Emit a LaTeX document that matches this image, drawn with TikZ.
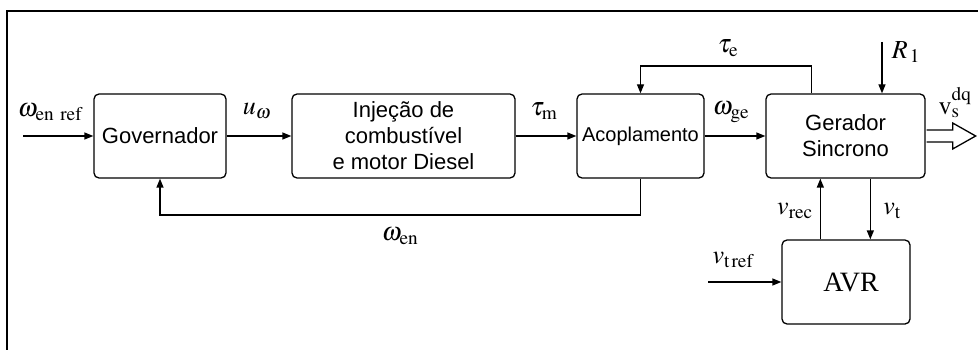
\documentclass[tikz,border=0pt]{standalone}
\usepackage{mathptmx}
\usepackage[no-math]{fontspec}
\setmainfont{Liberation Serif}
\setsansfont{Liberation Sans}
\usetikzlibrary{arrows.meta,calc}
\begin{document}
\begin{tikzpicture}[x=1pt,y=-1pt,
  blk/.style={draw,line width=1.3pt,rounded corners=5pt,minimum height=84pt,inner sep=0pt,
    font=\sffamily\fontsize{22}{26}\selectfont,align=center},
  arr/.style={line width=1.3pt,-{Triangle[length=9pt,width=7pt]}},
  lbl/.style={font=\fontsize{26}{30}\selectfont,inner sep=0pt}]
\useasboundingbox (0,0) rectangle (978,350);
% frame
\draw[line width=1.6pt] (7,350) -- (7,11) -- (978,11);
% blocks
\node[blk,minimum width=132pt] (gov) at (160,136) {Governador};
\node[blk,minimum width=223pt] (inj) at (403.5,136) {Injeção de\\combustível\\e motor Diesel};
\node[blk,minimum width=127pt,font=\sffamily\fontsize{20}{24}\selectfont] (aco) at (640.5,136) {Acoplamento};
\node[blk,minimum width=159pt] (ger) at (845.5,136) {Gerador\\Sincrono};
\node[blk,minimum width=128pt,font=\rmfamily\fontsize{28}{32}\selectfont] (avr) at (846,282) {\hspace*{10pt}AVR};
% coordinates
\coordinate (win) at (23,136);
\coordinate (fby) at (0,215);
\coordinate (tey) at (0,66);
\coordinate (r1) at (882,42);
\coordinate (vref) at (708,282);
% connectors
\draw[arr] (win) -- (gov.west);
\draw[arr] (gov) -- (inj);
\draw[arr] (inj) -- (aco);
\draw[arr] (aco) -- (ger);
\draw[arr] (aco.south) -- (aco.south |- fby) -| (gov.south);
\coordinate (tes) at ($(ger.north west)+(46,0)$);
\draw[arr] (tes) -- (tes |- tey) -| (aco.north);
\draw[arr] (r1) -- (r1 |- ger.north);
\coordinate (vrs) at ($(avr.north west)+(39,0)$);
\draw[arr] (vrs) -- (vrs |- ger.south);
\coordinate (vts) at ($(ger.south west)+(105,0)$);
\draw[arr] (vts) -- (vts |- avr.north);
\draw[arr] (vref) -- (avr.west);
% hollow output arrow
\draw[line width=1.3pt,line join=miter] ($(ger.east)+(1,-6)$) -- ++(26,0) -- ++(0,-7) -- ++(23,13) -- ++(-23,13) -- ++(0,-7) -- ++(-26,0);
% labels
\node[lbl] at (50,112) {$\omega_{\mathrm{en\ ref}}$};
\node[lbl] at (257,111) {$u_\omega$};
\node[lbl] at (544,111) {$\tau_{\mathrm{m}}$};
\node[lbl] at (400,236) {$\omega_{\mathrm{en}}$};
\node[lbl] at (731,112) {$\omega_{\mathrm{ge}}$};
\node[lbl] at (728,48) {$\tau_{\mathrm{e}}$};
\node[lbl] at (906,52) {$R_{\,1}$};
\node[lbl] at (955,103) {$\mathrm{v}_{\mathrm{s}}^{\mathrm{dq}}$};
\node[lbl] at (795,211) {$v_{\mathrm{rec}}$};
\node[lbl] at (892,211) {$v_{\mathrm{t}}$};
\node[lbl] at (733,260) {$v_{\mathrm{t\,ref}}$};
\end{tikzpicture}
\end{document}
